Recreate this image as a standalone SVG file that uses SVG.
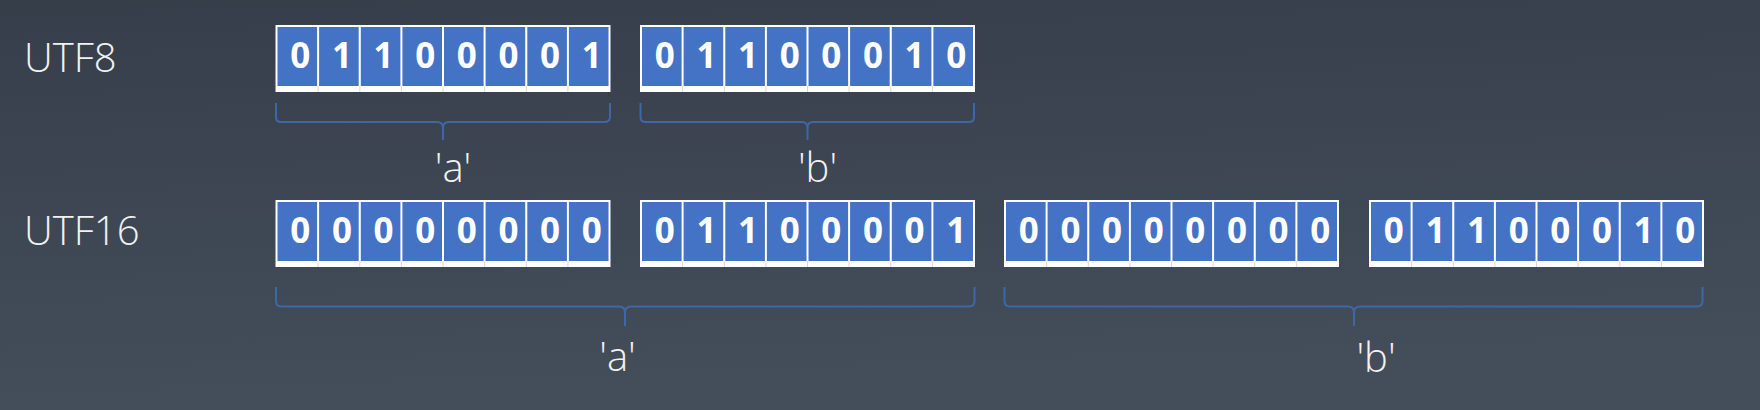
<svg xmlns="http://www.w3.org/2000/svg" width="1760" height="410" viewBox="0 0 1760 410">
<defs>
<linearGradient id="bg" x1="0" y1="0" x2="0.15" y2="1">
<stop offset="0" stop-color="#363e4a"/>
<stop offset="1" stop-color="#444e5b"/>
</linearGradient>
<g id="cells">
<rect x="0" y="0" width="335" height="67" fill="#ffffff"/>
<rect x="2" y="2" width="39.6" height="59" class="cell"/>
<rect x="43.6" y="2" width="39.6" height="59" class="cell"/>
<rect x="85.3" y="2" width="39.6" height="59" class="cell"/>
<rect x="126.9" y="2" width="39.6" height="59" class="cell"/>
<rect x="168.5" y="2" width="39.6" height="59" class="cell"/>
<rect x="210.1" y="2" width="39.6" height="59" class="cell"/>
<rect x="251.8" y="2" width="39.6" height="59" class="cell"/>
<rect x="293.4" y="2" width="39.6" height="59" class="cell"/>
<path d="M42.6,61V67M84.3,61V67M125.9,61V67M167.5,61V67M209.1,61V67M250.8,61V67M292.4,61V67" stroke="#dadada" stroke-width="1"/>
</g>
</defs>
<style>
.cell{fill:#4472c4}
.lbl{font-family:"Open Sans","Noto Sans","Liberation Sans",sans-serif;font-size:40px;font-weight:300;fill:#f2f2f2}
.bit{font-family:"Open Sans","Noto Sans","Liberation Sans",sans-serif;font-size:35px;font-weight:bold;fill:#ffffff;text-anchor:middle}
.brace{fill:none;stroke:#3e67a8;stroke-width:2}
.ch{font-family:"Open Sans","Noto Sans","Liberation Sans",sans-serif;font-size:40px;font-weight:300;fill:#f2f2f2;text-anchor:middle}
</style>
<rect x="0" y="0" width="1760" height="410" fill="url(#bg)"/>

<g id="label-utf8"><text class="lbl" x="24" y="72">UTF8</text></g>
<g id="label-utf16"><text class="lbl" x="24" y="245">UTF16</text></g>

<g id="utf8-byte1" transform="translate(275.5,25)">
<use href="#cells"/>
<text class="bit" y="43"><tspan x="24.8">0</tspan><tspan x="66.4">1</tspan><tspan x="108.1">1</tspan><tspan x="149.7">0</tspan><tspan x="191.3">0</tspan><tspan x="232.9">0</tspan><tspan x="274.6">0</tspan><tspan x="316.2">1</tspan></text>
</g>
<g id="utf8-byte2" transform="translate(640,25)">
<use href="#cells"/>
<text class="bit" y="43"><tspan x="24.8">0</tspan><tspan x="66.4">1</tspan><tspan x="108.1">1</tspan><tspan x="149.7">0</tspan><tspan x="191.3">0</tspan><tspan x="232.9">0</tspan><tspan x="274.6">1</tspan><tspan x="316.2">0</tspan></text>
</g>
<g id="utf16-byte1" transform="translate(275.5,200)">
<use href="#cells"/>
<text class="bit" y="43"><tspan x="24.8">0</tspan><tspan x="66.4">0</tspan><tspan x="108.1">0</tspan><tspan x="149.7">0</tspan><tspan x="191.3">0</tspan><tspan x="232.9">0</tspan><tspan x="274.6">0</tspan><tspan x="316.2">0</tspan></text>
</g>
<g id="utf16-byte2" transform="translate(640,200)">
<use href="#cells"/>
<text class="bit" y="43"><tspan x="24.8">0</tspan><tspan x="66.4">1</tspan><tspan x="108.1">1</tspan><tspan x="149.7">0</tspan><tspan x="191.3">0</tspan><tspan x="232.9">0</tspan><tspan x="274.6">0</tspan><tspan x="316.2">1</tspan></text>
</g>
<g id="utf16-byte3" transform="translate(1004,200)">
<use href="#cells"/>
<text class="bit" y="43"><tspan x="24.8">0</tspan><tspan x="66.4">0</tspan><tspan x="108.1">0</tspan><tspan x="149.7">0</tspan><tspan x="191.3">0</tspan><tspan x="232.9">0</tspan><tspan x="274.6">0</tspan><tspan x="316.2">0</tspan></text>
</g>
<g id="utf16-byte4" transform="translate(1369,200)">
<use href="#cells"/>
<text class="bit" y="43"><tspan x="24.8">0</tspan><tspan x="66.4">1</tspan><tspan x="108.1">1</tspan><tspan x="149.7">0</tspan><tspan x="191.3">0</tspan><tspan x="232.9">0</tspan><tspan x="274.6">1</tspan><tspan x="316.2">0</tspan></text>
</g>

<g id="connectors">
<path class="brace" d="M276,103V117Q276,122 281,122H437Q443,122 443,128V140M443,128Q443,122 449,122H604Q610,122 610,117V103"/>
<path class="brace" d="M640.5,103V117Q640.5,122 645.5,122H802Q807.5,122 807.5,128V140M807.5,128Q807.5,122 813,122H969Q974,122 974,117V103"/>
<path class="brace" d="M276,287V301Q276,306.5 281.5,306.5H619Q625,306.5 625,312.5V326M625,312.5Q625,306.5 631,306.5H969Q974.5,306.5 974.5,301V287"/>
<path class="brace" d="M1004.5,287V301Q1004.5,306.5 1010,306.5H1348Q1354,306.5 1354,312.5V326M1354,312.5Q1354,306.5 1360,306.5H1697Q1702.5,306.5 1702.5,301V287"/>
</g>

<g id="char-utf8-a"><text class="ch" x="453" y="182">'a'</text></g>
<g id="char-utf8-b"><text class="ch" x="817.5" y="182">'b'</text></g>
<g id="char-utf16-a"><text class="ch" x="617.5" y="371">'a'</text></g>
<g id="char-utf16-b"><text class="ch" x="1376" y="372">'b'</text></g>
</svg>
